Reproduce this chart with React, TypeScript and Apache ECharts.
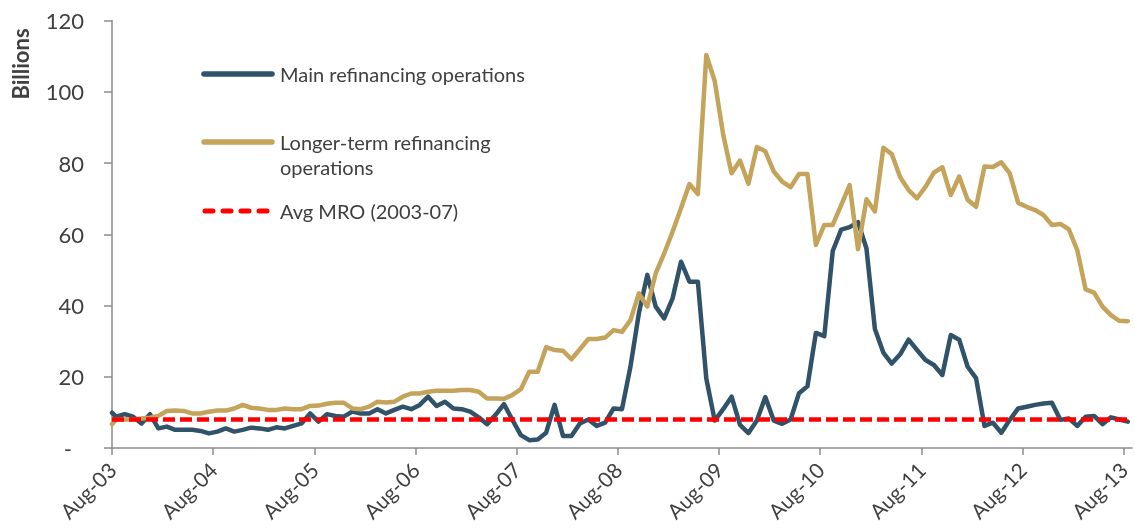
import React, { useEffect, useRef } from "react";
import * as echarts from "echarts";

// Tick labels (one per year, every 12 months from Aug-03)
const tickLabels = ["Aug-03", "Aug-04", "Aug-05", "Aug-06", "Aug-07", "Aug-08", "Aug-09", "Aug-10", "Aug-11", "Aug-12", "Aug-13"];

// Series names
const seriesNames = ["Main refinancing operations", "Longer-term refinancing operations", "Avg MRO (2003-07)"];

// Main refinancing operations (EUR bn): first value = opening reading, then monthly (mid-month) values Aug-03 .. Aug-13
const mro = [
  9.9,
  8.8, 9.5, 8.8, 6.9, 9.5, 5.5, 6.0, 5.1, 5.1, 5.1,
  4.8, 4.1, 4.6, 5.5, 4.6, 5.1, 5.7, 5.5, 5.1, 5.8,
  5.5, 6.2, 6.9, 9.7, 7.4, 9.5, 9.0, 8.8, 10.2, 9.7,
  9.7, 10.9, 9.7, 10.7, 11.6, 10.9, 12.1, 14.4, 11.8, 13.0,
  11.1, 10.9, 10.2, 8.6, 6.7, 9.3, 12.3, 7.9, 3.6, 2.2,
  2.4, 4.3, 12.1, 3.4, 3.4, 6.9, 8.0, 6.2, 7.1, 11.1,
  10.9, 22.8, 37.8, 48.6, 39.7, 36.4, 42.0, 52.3, 46.7, 46.7,
  19.5, 7.7, 10.9, 14.4, 6.5, 4.2, 7.7, 14.3, 7.7, 6.8,
  8.0, 15.4, 17.3, 32.3, 31.4, 55.3, 61.3, 62.0, 63.4, 56.0,
  33.4, 26.8, 23.7, 26.3, 30.4, 27.5, 24.7, 23.3, 20.5, 31.7,
  30.4, 22.8, 19.6, 6.2, 7.1, 4.3, 7.9, 11.1, 11.6, 12.1,
  12.5, 12.7, 7.9, 8.3, 6.2, 8.8, 9.0, 6.7, 8.6, 8.0, 7.4,
];

// Longer-term refinancing operations (EUR bn), same dating as mro
const ltro = [
  6.7,
  8.0, 8.0, 8.0, 8.3, 8.5, 9.0, 10.4, 10.5, 10.4, 9.7,
  9.7, 10.2, 10.5, 10.5, 11.1, 12.1, 11.3, 11.1, 10.7, 10.7,
  11.1, 10.9, 10.9, 11.8, 11.9, 12.4, 12.7, 12.7, 11.1, 10.9,
  11.6, 13.0, 12.8, 13.0, 14.4, 15.3, 15.3, 15.8, 16.1, 16.1,
  16.1, 16.3, 16.3, 15.8, 13.9, 13.9, 13.8, 14.9, 16.5, 21.4,
  21.4, 28.3, 27.5, 27.3, 24.9, 27.7, 30.6, 30.6, 31.0, 33.1,
  32.6, 35.9, 43.4, 39.7, 49.0, 54.6, 60.7, 67.3, 74.1, 71.3,
  110.3, 103.0, 88.0, 77.1, 80.7, 74.2, 84.5, 83.3, 77.6, 74.8,
  73.2, 76.9, 76.9, 57.0, 62.6, 62.6, 68.2, 73.8, 55.8, 69.8,
  66.4, 84.3, 82.5, 76.0, 72.4, 70.1, 73.3, 77.3, 78.8, 71.0,
  76.2, 69.7, 67.7, 79.0, 78.9, 80.2, 77.1, 68.8, 67.7, 66.8,
  65.4, 62.6, 62.9, 61.4, 55.6, 44.5, 43.6, 39.7, 37.3, 35.7, 35.6,
];

// Average MRO 2003-07 (EUR bn)
const avgMro = 8.0;

// Month offset from Aug-03: opening reading at 0, then mid-month points
const monthPos = (i: number) => (i === 0 ? 0 : i - 0.5);

export default function App() {
  const ref = useRef<HTMLDivElement>(null);

  useEffect(() => {
    if (!ref.current) return;
    const chart = echarts.init(ref.current, undefined, { renderer: "svg" });
    const font = "Lato, 'Open Sans', sans-serif";
    const txt = "#404040";
    const axisColor = "#8c8c8c";
    const blue = "#30536a";
    const tan = "#c4a35a";
    const red = "#ff0000";
    const tickVals = tickLabels.map((_, i) => i * 12);
    const lastPos = monthPos(mro.length - 1);

    chart.setOption({
      animation: false,
      grid: { left: 112, right: 3, top: 20.5, bottom: 81, containLabel: false },
      xAxis: {
        type: "value",
        min: 0,
        max: 121,
        interval: 12,
        splitLine: { show: false },
        axisLine: { show: true, lineStyle: { color: axisColor, width: 1.5 } },
        axisTick: { show: true, length: 7, customValues: tickVals, lineStyle: { color: axisColor, width: 1.5 } },
        axisLabel: {
          customValues: tickVals,
          rotate: 45,
          margin: 18,
          fontFamily: font,
          fontSize: 21,
          color: txt,
          formatter: (v: number) => (v % 12 === 0 && v / 12 < tickLabels.length ? tickLabels[v / 12] : ""),
        },
      },
      yAxis: {
        type: "value",
        min: 0,
        max: 120,
        interval: 20,
        splitLine: { show: false },
        axisLine: { show: true, lineStyle: { color: axisColor, width: 1.5 } },
        axisTick: { show: true, length: 8, lineStyle: { color: axisColor, width: 1.5 } },
        axisLabel: {
          margin: 28,
          fontFamily: font,
          fontSize: 22,
          color: txt,
          formatter: (v: number) => (v === 0 ? "{d|-}" : String(v)),
          rich: { d: { fontFamily: font, fontSize: 22, color: txt, padding: [0, 12, 0, 0] } },
        },
      },
      series: [
        {
          name: seriesNames[0],
          type: "line",
          data: mro.map((v, i) => [monthPos(i), v]),
          showSymbol: false,
          symbol: "none",
          lineStyle: { color: blue, width: 4.5, join: "round", cap: "round" },
          z: 2,
        },
        {
          name: seriesNames[1],
          type: "line",
          data: ltro.map((v, i) => [monthPos(i), v]),
          showSymbol: false,
          symbol: "none",
          lineStyle: { color: tan, width: 4.5, join: "round", cap: "round" },
          z: 3,
        },
        {
          name: seriesNames[2],
          type: "line",
          data: [[0, avgMro], [lastPos, avgMro]],
          showSymbol: false,
          symbol: "none",
          lineStyle: { color: red, width: 4.5, type: [12, 5] },
          z: 4,
        },
      ],
      graphic: [
        {
          type: "text",
          x: 20,
          y: 64,
          rotation: Math.PI / 2,
          style: { text: "Billions", font: `bold 22px ${font}`, fill: txt, align: "center", verticalAlign: "middle" },
        },
        // legend
        { type: "line", shape: { x1: 204, y1: 74, x2: 272, y2: 74 }, style: { stroke: blue, lineWidth: 5.5, lineCap: "round" } },
        { type: "text", x: 280, y: 74, style: { text: seriesNames[0], font: `20px ${font}`, fill: txt, verticalAlign: "middle" } },
        { type: "line", shape: { x1: 204, y1: 142, x2: 272, y2: 142 }, style: { stroke: tan, lineWidth: 5.5, lineCap: "round" } },
        {
          type: "text",
          x: 280,
          y: 129.5,
          style: { text: "Longer-term refinancing\noperations", font: `20px ${font}`, lineHeight: 25, fill: txt, verticalAlign: "top" },
        },
        {
          type: "line",
          shape: { x1: 205, y1: 211, x2: 267, y2: 211 },
          style: { stroke: red, lineWidth: 5, lineCap: "round", lineDash: [8, 10] },
        },
        { type: "text", x: 280, y: 211, style: { text: seriesNames[2], font: `20px ${font}`, fill: txt, verticalAlign: "middle" } },
      ],
    });

    return () => chart.dispose();
  }, []);

  return <div ref={ref} style={{ position: "fixed", left: 0, top: 0, width: 1135, height: 529 }} />;
}
